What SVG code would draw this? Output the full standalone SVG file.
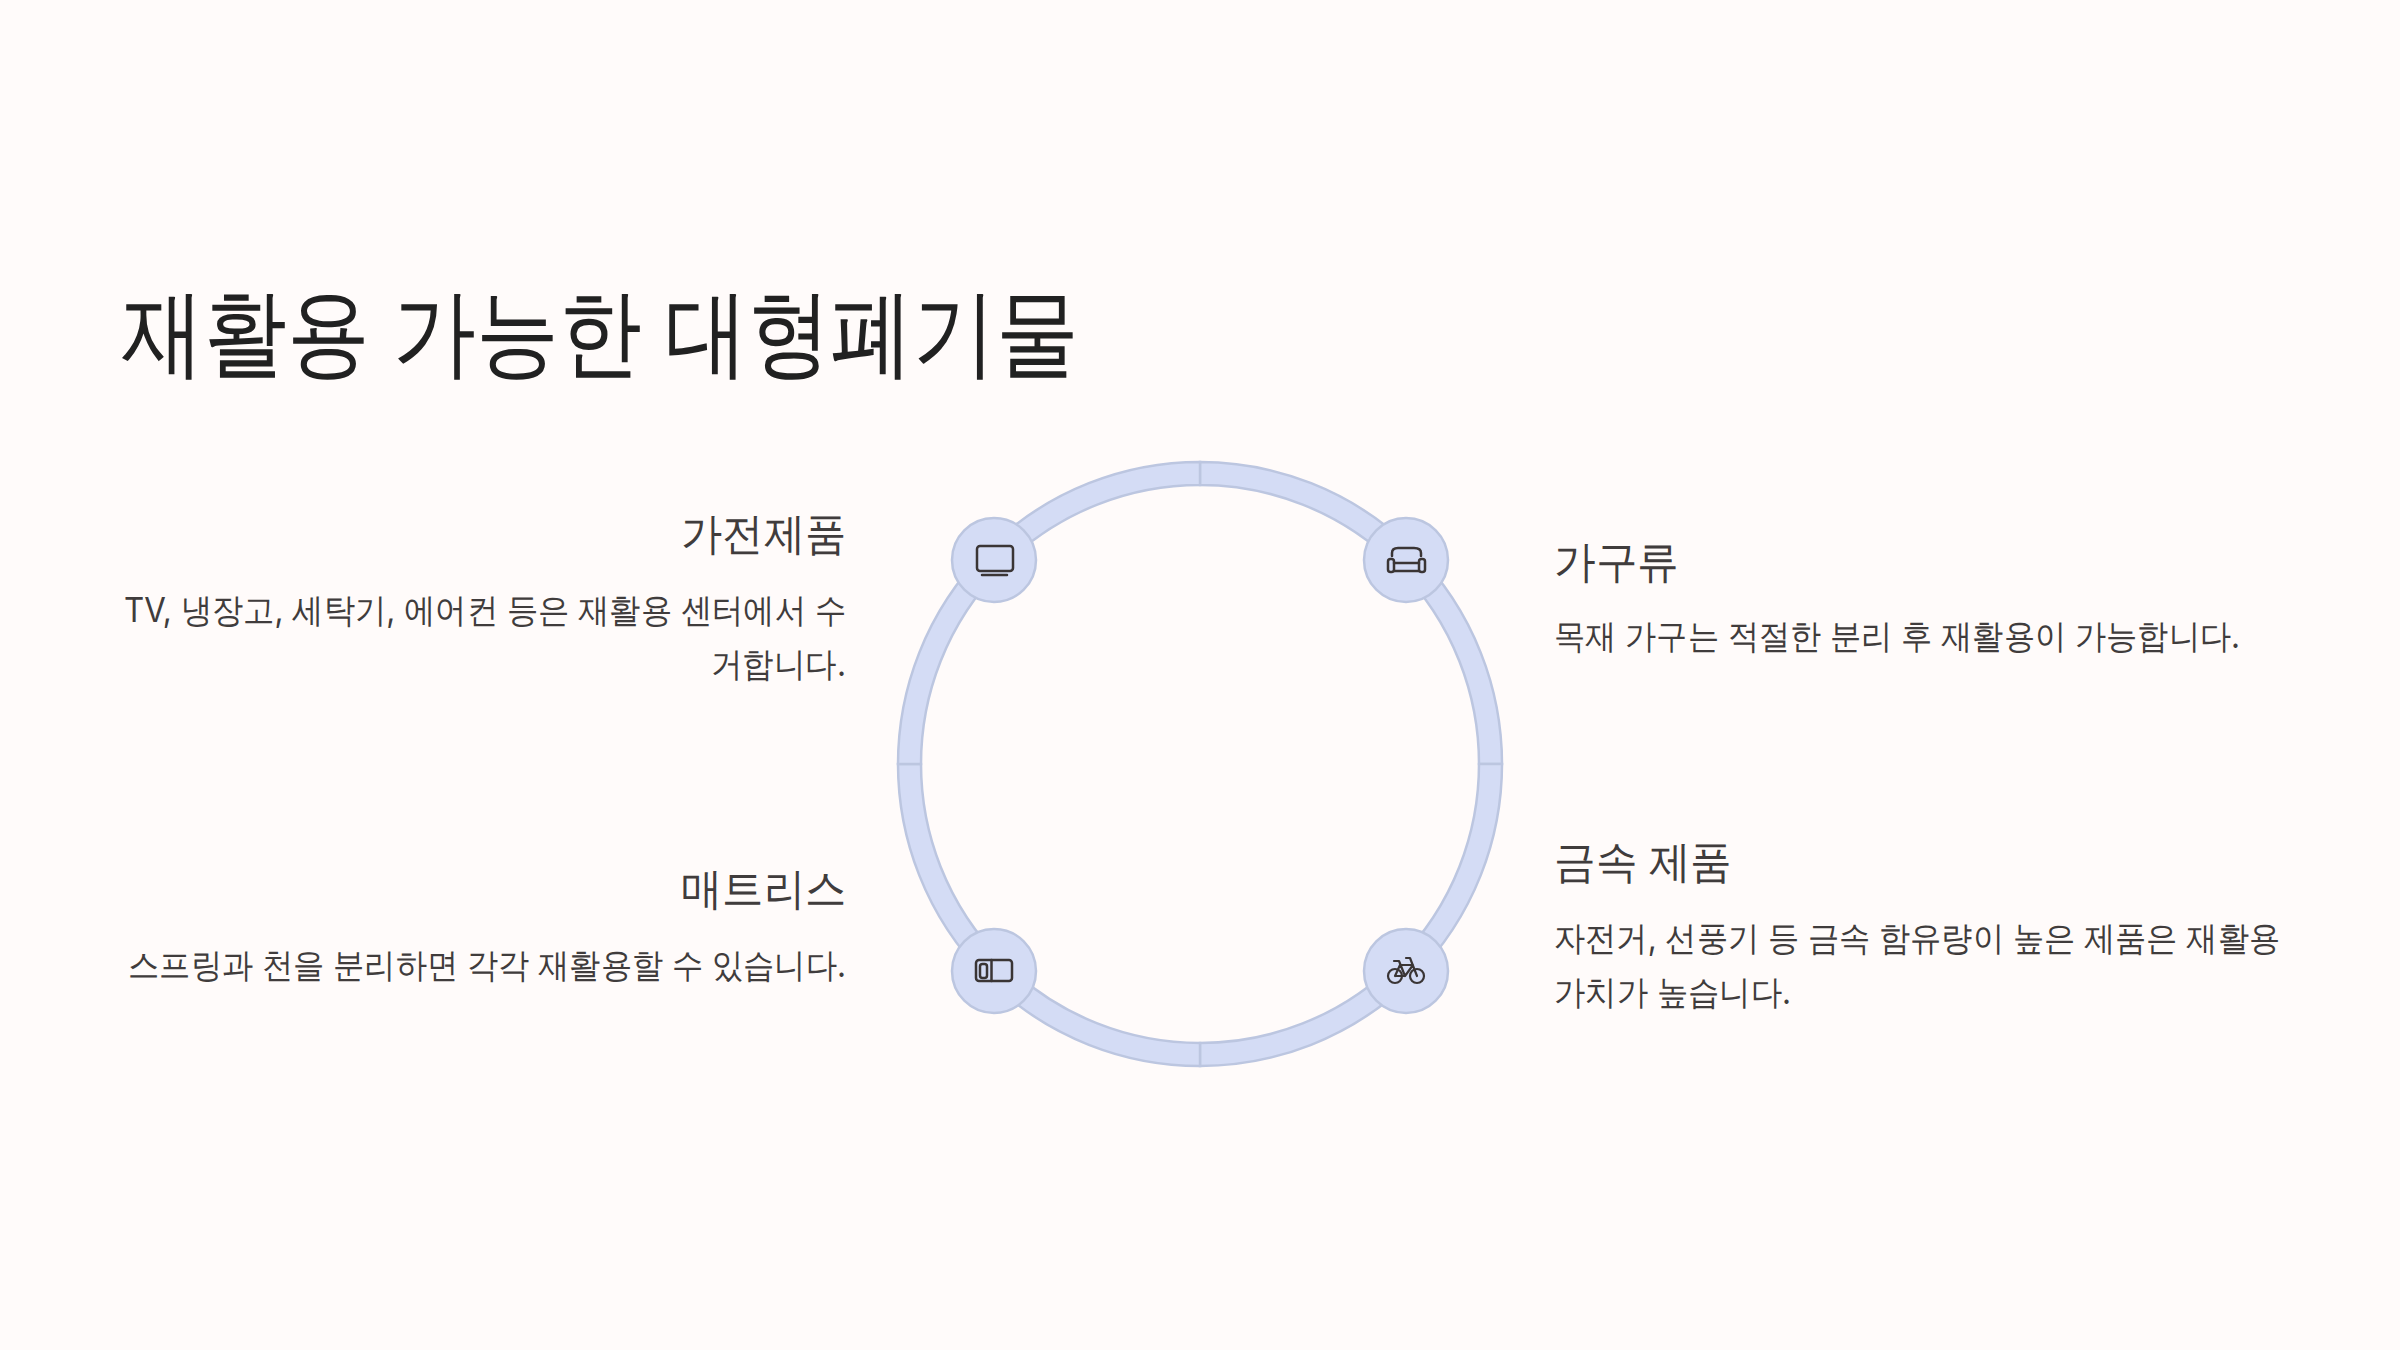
<svg xmlns="http://www.w3.org/2000/svg" width="2400" height="1350" viewBox="0 0 2400 1350">
<style>
text{font-family:Inter,sans-serif;font-weight:400}
.t{font-size:96px;fill:#212121}
.h{font-size:44px;fill:#403c3c}
.b{font-size:34px;fill:#403c3c}
.e{text-anchor:end}
.ring{fill:#d4dcf5;stroke:#bcc6e0;stroke-width:2.5}
.ic{fill:none;stroke:#3a3535;stroke-width:2.5;stroke-linejoin:round;stroke-linecap:round}
.thin{stroke-width:2.2}
</style>
<rect width="2400" height="1350" fill="#fffbfa"/>
<text class="t" x="121" y="366" textLength="958" lengthAdjust="spacingAndGlyphs">재활용 가능한 대형폐기물</text>
<g id="connectors">
<path class="ring" d="M1200 462A302 302 0 0 1 1502 764H1479A279 279 0 0 0 1200 485Z"/>
<path class="ring" d="M1502 764A302 302 0 0 1 1200 1066V1043A279 279 0 0 0 1479 764Z"/>
<path class="ring" d="M1200 1066A302 302 0 0 1 898 764H921A279 279 0 0 0 1200 1043Z"/>
<path class="ring" d="M898 764A302 302 0 0 1 1200 462V485A279 279 0 0 0 921 764Z"/>
</g>
<g id="node-appliances">
<circle class="ring" cx="994" cy="560" r="42"/>
<rect class="ic" x="977" y="546" width="36" height="25" rx="3"/>
<path class="ic" d="M982 575H1007"/>
<text class="h e" x="846" y="549" textLength="165" lengthAdjust="spacingAndGlyphs">가전제품</text>
<text class="b e" x="846" y="622" textLength="722" lengthAdjust="spacingAndGlyphs">TV, 냉장고, 세탁기, 에어컨 등은 재활용 센터에서 수</text>
<text class="b e" x="846" y="676" textLength="135" lengthAdjust="spacingAndGlyphs">거합니다.</text>
</g>
<g id="node-furniture">
<circle class="ring" cx="1406" cy="560" r="42"/>
<path class="ic" d="M1392 556V553Q1392 548 1398 548H1414Q1421 548 1421 553V556M1394 563H1419M1394 571H1419"/>
<rect class="ic" x="1388" y="559" width="6" height="13" rx="2.5"/>
<rect class="ic" x="1419" y="559" width="6" height="13" rx="2.5"/>
<text class="h" x="1554" y="577" textLength="125" lengthAdjust="spacingAndGlyphs">가구류</text>
<text class="b" x="1554" y="648" textLength="686" lengthAdjust="spacingAndGlyphs">목재 가구는 적절한 분리 후 재활용이 가능합니다.</text>
</g>
<g id="node-mattress">
<circle class="ring" cx="994" cy="971" r="42"/>
<rect class="ic" x="976" y="960" width="36" height="21" rx="3"/>
<path class="ic" d="M991.500 960V981"/>
<rect class="ic" x="980" y="964" width="7" height="14" rx="2.500"/>
<text class="h e" x="846" y="904" textLength="165" lengthAdjust="spacingAndGlyphs">매트리스</text>
<text class="b e" x="846" y="977" textLength="718" lengthAdjust="spacingAndGlyphs">스프링과 천을 분리하면 각각 재활용할 수 있습니다.</text>
</g>
<g id="node-metal">
<circle class="ring" cx="1406" cy="971" r="42"/>
<circle class="ic thin" cx="1395" cy="976" r="7"/>
<circle class="ic thin" cx="1417" cy="976" r="7"/>
<path class="ic thin" d="M1395 976L1400 965H1413L1405 976H1395M1394 961H1399L1405 976M1406 958H1410L1417 976"/>
<text class="h" x="1554" y="877" textLength="178" lengthAdjust="spacingAndGlyphs">금속 제품</text>
<text class="b" x="1554" y="950" textLength="726" lengthAdjust="spacingAndGlyphs">자전거, 선풍기 등 금속 함유량이 높은 제품은 재활용</text>
<text class="b" x="1554" y="1004" textLength="237" lengthAdjust="spacingAndGlyphs">가치가 높습니다.</text>
</g>
</svg>
